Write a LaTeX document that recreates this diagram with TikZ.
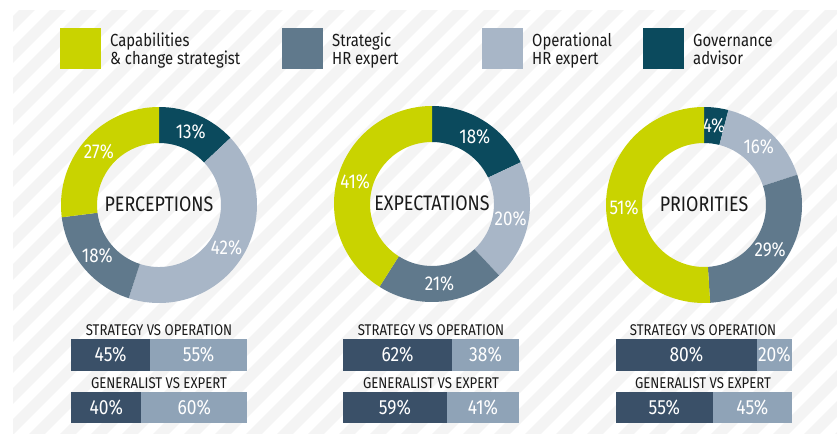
\documentclass[tikz,border=0pt]{standalone}
\usepackage{fontspec}
\setmainfont{Fira Sans}[FakeStretch=0.85]
\usetikzlibrary{calc}
\definecolor{capcol}{RGB}{201,211,0}
\definecolor{strcol}{RGB}{96,121,140}
\definecolor{opcol}{RGB}{168,182,199}
\definecolor{govcol}{RGB}{11,74,93}
\definecolor{bardark}{RGB}{58,80,104}
\definecolor{barlight}{RGB}{143,163,183}
\definecolor{stripecol}{RGB}{244,244,244}
\definecolor{txt}{RGB}{26,26,26}
\tikzset{
  pct/.style={text=white, font=\fontsize{20}{22}\selectfont, inner sep=0pt},
  title/.style={text=txt, font=\fontsize{21}{23}\selectfont, inner sep=0pt},
  legtxt/.style={text=txt, font=\fontsize{17.5}{19}\selectfont, inner sep=0pt, anchor=base west},
  head/.style={text=txt, font=\fontsize{15.5}{17}\selectfont, inner sep=0pt},
  barpct/.style={text=white, font=\fontsize{20.5}{22}\selectfont, inner sep=0pt},
  stripe/.style={stripecol, line width=11pt},
}
\newcommand{\donutseg}[7]{%
  \pgfmathsetmacro{\aA}{90-3.6*#3}%
  \pgfmathsetmacro{\aB}{90-3.6*#4}%
  \pgfmathsetmacro{\aM}{(\aA+\aB)/2}%
  \fill[#5] ($(#1,#2)+(\aA:98)$) arc[start angle=\aA, end angle=\aB, radius=98]
    -- ($(#1,#2)+(\aB:62)$) arc[start angle=\aB, end angle=\aA, radius=62] -- cycle;
  \node[pct] (#7) at ($(#1,#2)+(\aM:80)$) {#6};
}
\newcommand{\splitbar}[8]{%
  \pgfmathsetmacro{\xs}{#1+(#2-#1)*#5/100}%
  \fill[bardark] (#1,#3) rectangle (\xs,#4);
  \fill[barlight] (\xs,#3) rectangle (#2,#4);
  \node[barpct] (#8a) at ({(#1+\xs)/2},{(#3+#4)/2}) {#6};
  \node[barpct] (#8b) at ({(\xs+#2)/2},{(#3+#4)/2}) {#7};
}
\begin{document}
\begin{tikzpicture}[x=1pt,y=1pt]
\useasboundingbox (0,0) rectangle (837,-437);
\fill[white] (0,0) rectangle (837,-437);
% background stripes
\begin{scope}
  \clip (13,-10) rectangle (837,-433);
  \foreach \k in {-15,...,28} {
    \draw[stripe] (\k*31,-440) -- ++(440,440);
  }
\end{scope}
% legend
\fill[capcol] (60,-28) rectangle (101,-69);
\node[legtxt] (l1a) at (110,-46) {Capabilities};
\node[legtxt] (l1b) at (110,-64) {\& change strategist};
\fill[strcol] (282,-28) rectangle (323,-69);
\node[legtxt] (l2a) at (332,-46) {Strategic};
\node[legtxt] (l2b) at (332,-64) {HR expert};
\fill[opcol] (482,-28) rectangle (523,-69);
\node[legtxt] (l3a) at (532,-46) {Operational};
\node[legtxt] (l3b) at (532,-64) {HR expert};
\fill[govcol] (643,-28) rectangle (684,-69);
\node[legtxt] (l4a) at (693,-46) {Governance};
\node[legtxt] (l4b) at (693,-64) {advisor};
% donut 1
\donutseg{159}{-205}{0}{13}{govcol}{13\%}{p1}
\donutseg{159}{-205}{13}{55}{opcol}{42\%}{p2}
\donutseg{159}{-205}{55}{73}{strcol}{18\%}{p3}
\donutseg{159}{-205}{73}{100}{capcol}{27\%}{p4}
\node[title] (t1) at (159,-204) {PERCEPTIONS};
% donut 2
\donutseg{432}{-204}{0}{18}{govcol}{18\%}{e1}
\donutseg{432}{-204}{18}{38}{opcol}{20\%}{e2}
\donutseg{432}{-204}{38}{59}{strcol}{21\%}{e3}
\donutseg{432}{-204}{59}{100}{capcol}{41\%}{e4}
\node[title] (t2) at (432,-203) {EXPECTATIONS};
% donut 3
\donutseg{704}{-205}{0}{4}{govcol}{4\%}{r1}
\donutseg{704}{-205}{4}{20}{opcol}{16\%}{r2}
\donutseg{704}{-205}{20}{49}{strcol}{29\%}{r3}
\donutseg{704}{-205}{49}{100}{capcol}{51\%}{r4}
\node[title] (t3) at (704,-204) {PRIORITIES};
% bars
\node[head] (h1) at (159,-330) {STRATEGY VS OPERATION};
\splitbar{71}{247}{-339}{-371}{45}{45\%}{55\%}{b1}
\node[head] (h2) at (159,-383) {GENERALIST VS EXPERT};
\splitbar{71}{247}{-392}{-423}{40}{40\%}{60\%}{b2}
\node[head] (h3) at (431,-330) {STRATEGY VS OPERATION};
\splitbar{343}{519}{-339}{-371}{62}{62\%}{38\%}{b3}
\node[head] (h4) at (431,-383) {GENERALIST VS EXPERT};
\splitbar{343}{519}{-392}{-423}{59}{59\%}{41\%}{b4}
\node[head] (h5) at (703,-330) {STRATEGY VS OPERATION};
\splitbar{616}{792}{-339}{-371}{80}{80\%}{20\%}{b5}
\node[head] (h6) at (703,-383) {GENERALIST VS EXPERT};
\splitbar{616}{792}{-392}{-423}{55}{55\%}{45\%}{b6}
\end{tikzpicture}
\end{document}
